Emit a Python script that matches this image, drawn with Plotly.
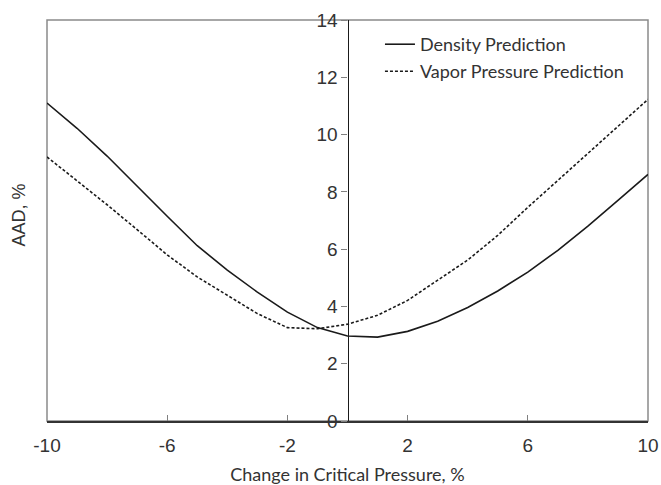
import plotly.graph_objects as go

# Change in critical pressure (%) and resulting AAD (%)
dpc = [-10, -9, -8, -7, -6, -5, -4, -3, -2, -1, 0, 1, 2, 3, 4, 5, 6, 7, 8, 9, 10]
density_aad = [11.10, 10.22, 9.25, 8.19, 7.15, 6.12, 5.27, 4.50, 3.80, 3.26, 2.97,
               2.93, 3.13, 3.48, 3.96, 4.54, 5.20, 5.96, 6.80, 7.70, 8.61]
vapor_aad = [9.22, 8.40, 7.55, 6.68, 5.80, 5.03, 4.40, 3.75, 3.26, 3.22, 3.38,
             3.69, 4.21, 4.91, 5.62, 6.48, 7.46, 8.40, 9.35, 10.28, 11.23]

x_ticks = [-10, -6, -2, 2, 6, 10]
y_ticks = [0, 2, 4, 6, 8, 10, 12, 14]

label_font = dict(family="Liberation Sans, Arial, sans-serif", size=19, color="#333333")
text_font = dict(family="Lato, sans-serif", size=18, color="#333333")

fig = go.Figure()
fig.add_trace(go.Scatter(
    x=dpc, y=density_aad, mode="lines", name="Density Prediction",
    line=dict(color="#1a1a1a", width=1.6), legendgroup="d",
))
fig.add_trace(go.Scatter(
    x=dpc, y=vapor_aad, mode="lines", name="Vapor Pressure Prediction",
    line=dict(color="#1a1a1a", width=1.6, dash="3px,2px"), legendgroup="v",
))

fig.update_layout(
    width=661, height=485,
    margin=dict(l=47, r=13, t=20, b=64),
    paper_bgcolor="white", plot_bgcolor="white",
    showlegend=True,
    legend=dict(
        x=0.554, y=0.985, xanchor="left", yanchor="top",
        bgcolor="rgba(0,0,0,0)", font=text_font, tracegroupgap=0.6,
        itemwidth=30,
    ),
    xaxis=dict(
        range=[-10, 10], tickvals=x_ticks, ticktext=[str(v) for v in x_ticks],
        ticks="inside", ticklen=6, tickcolor="#808080", tickwidth=1.2,
        showline=True, linecolor="#333333", linewidth=1.5,
        showgrid=False, zeroline=False, tickfont=label_font,
        ticklabelstandoff=6, automargin=False,
        title=dict(text="Change in Critical Pressure, %", font=text_font, standoff=14),
    ),
    yaxis=dict(
        range=[0, 14], tickvals=y_ticks, anchor="free", position=0.5,
        ticks="outside", ticklen=6, tickcolor="#808080", tickwidth=1.2,
        showline=True, linecolor="#1a1a1a", linewidth=1.2,
        showgrid=False, zeroline=False, tickfont=label_font, automargin=False,
    ),
    shapes=[dict(
        type="rect", xref="paper", yref="paper", x0=0, x1=1, y0=0, y1=1,
        line=dict(color="#8a8a8a", width=1.5), layer="below",
    )],
    annotations=[dict(
        text="AAD, %", xref="paper", yref="paper", x=-0.045, y=0.515,
        xanchor="center", yanchor="middle", textangle=-90, showarrow=False,
        font=dict(family="Liberation Sans, Arial, sans-serif", size=18, color="#333333"),
    )],
)

fig.write_html("out.html")
